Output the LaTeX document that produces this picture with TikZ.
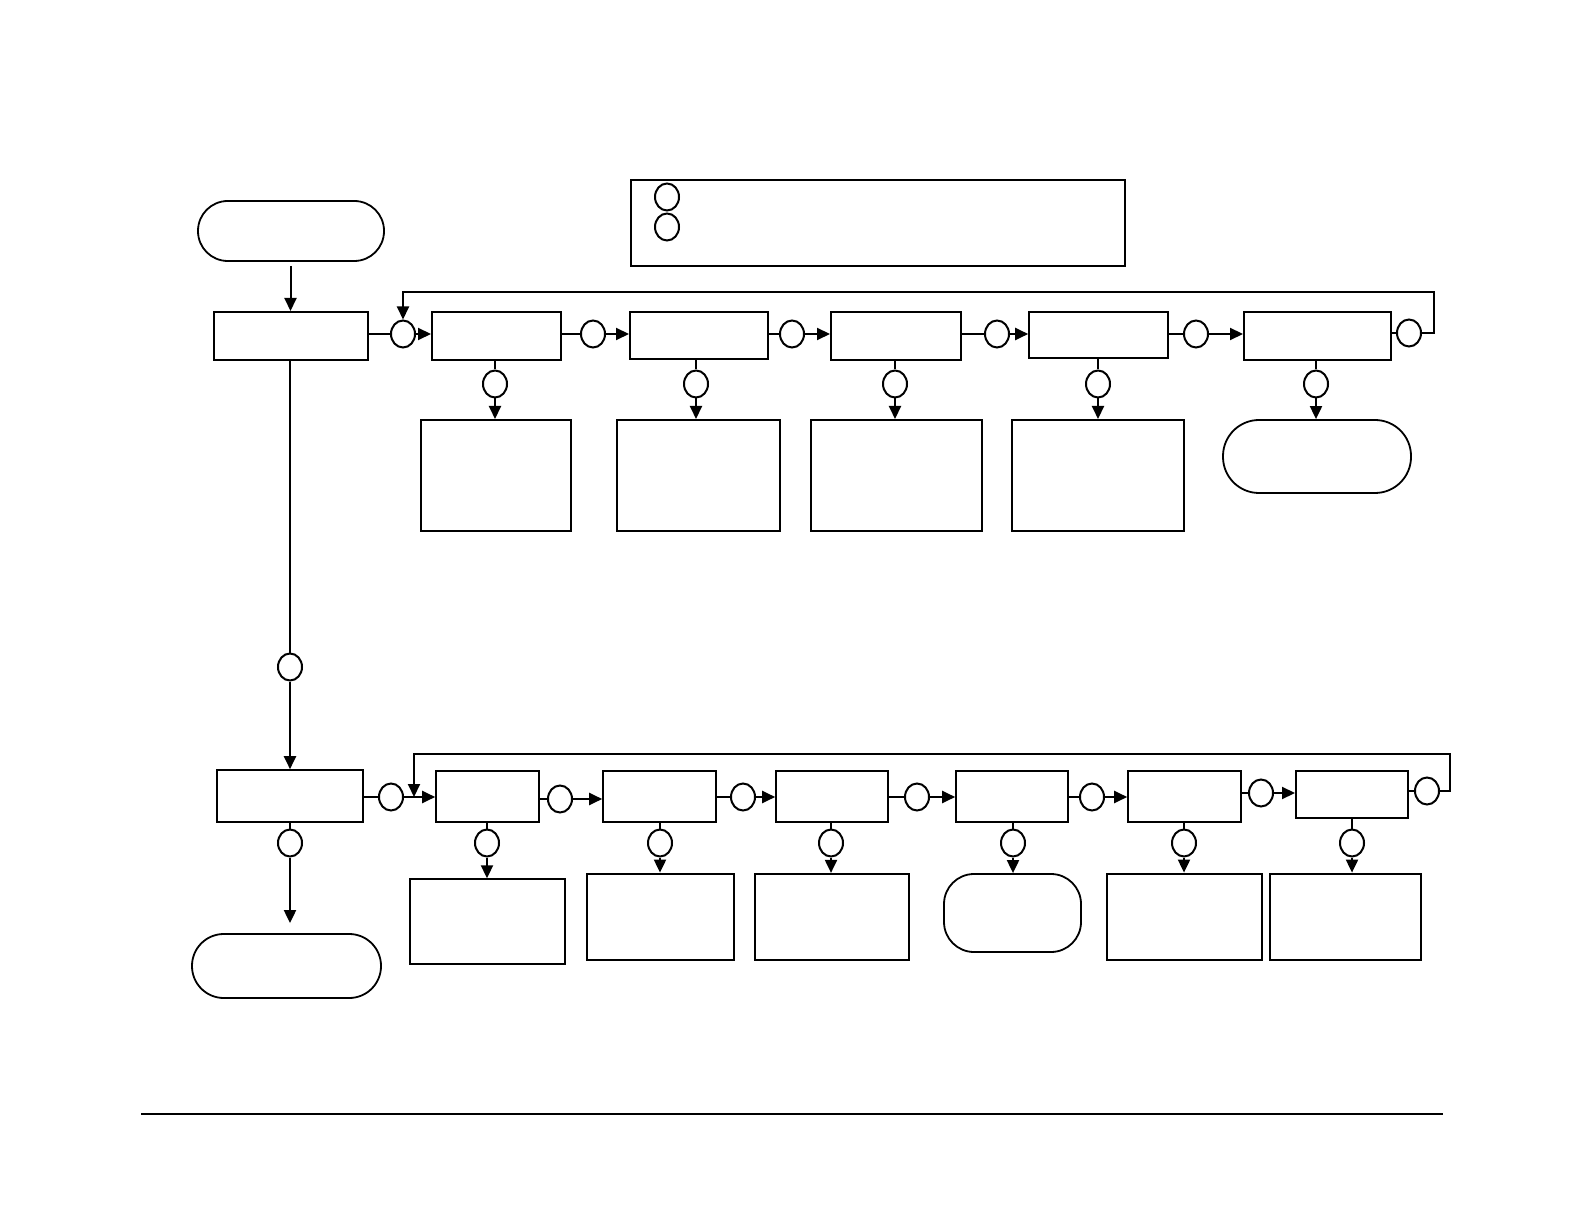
\documentclass[tikz,border=0pt]{standalone}
\usetikzlibrary{arrows.meta,shapes.geometric}
\tikzset{
  sz/.style 2 args={minimum width=#1*0.5pt, minimum height=#2*0.5pt},
  bx/.style={draw, line width=1pt, rectangle, inner sep=0pt},
  bxt/.style={draw, line width=1.4pt, rectangle, inner sep=0pt},
  term/.style={draw, line width=0.9pt, rectangle, inner sep=0pt},
  cn/.style={draw, line width=1pt, ellipse, inner sep=0pt, minimum width=12pt, minimum height=13.5pt},
  ln/.style={line width=1pt},
  ar/.style={line width=1pt, -{Triangle[length=6.5pt,width=6pt]}},
}
\begin{document}
\begin{tikzpicture}[x=0.5pt,y=-0.5pt]
\useasboundingbox (0,0) rectangle (1584,1224);
% legend
\node[bx, sz={494}{86}] (leg) at (878,223) {};
\node[cn] (lc1) at (667,197) {};
\node[cn] (lc2) at (667,227) {};
% start
\node[term, sz={186}{60}, rounded corners=14.9pt] (t0) at (291,231) {};
% top row
\node[bx, sz={154}{48}] (a1) at (290.5,336) {};
\node[cn] (c0) at (403,334) {};
\node[bx, sz={129}{48}] (a2) at (496.5,336) {};
\node[cn] (c1) at (593,334) {};
\node[bx, sz={138}{47}] (a3) at (699,336) {};
\node[cn] (c2) at (792,334) {};
\node[bx, sz={130}{48}] (a4) at (896,336) {};
\node[cn] (c3) at (997,334) {};
\node[bx, sz={139}{46}, line width=0.8pt] (a5) at (1098.5,335) {};
\node[cn] (c4) at (1196,334) {};
\node[bx, sz={147}{48}] (a6) at (1317.5,336) {};
\node[cn] (c5) at (1409,333) {};
% top down circles
\node[cn] (d1) at (495,384) {};
\node[cn] (d2) at (696,384) {};
\node[cn] (d3) at (895,384) {};
\node[cn] (d4) at (1098,384) {};
\node[cn] (d5) at (1316,384) {};
% top results
\node[bx, sz={150}{111}] (r1) at (496,475.5) {};
\node[bx, sz={163}{111}] (r2) at (698.5,475.5) {};
\node[bx, sz={171}{111}] (r3) at (896.5,475.5) {};
\node[bx, sz={172}{111}] (r4) at (1098,475.5) {};
\node[term, sz={188}{73}, rounded corners=18pt] (r5) at (1317,456.5) {};
% vertical
\node[cn] (v) at (290,667) {};
% bottom row
\node[bx, sz={146}{52}, line width=0.8pt] (b1) at (290,796) {};
\node[cn] (e0) at (391,797) {};
\node[bx, sz={103}{51}, line width=0.8pt] (b2) at (487.5,796.5) {};
\node[cn] (e1) at (560,799) {};
\node[bx, sz={113}{51}, line width=0.8pt] (b3) at (659.5,796.5) {};
\node[cn] (e2) at (743,797) {};
\node[bx, sz={112}{51}, line width=0.8pt] (b4) at (832,796.5) {};
\node[cn] (e3) at (917,797) {};
\node[bx, sz={112}{51}, line width=0.8pt] (b5) at (1012,796.5) {};
\node[cn] (e4) at (1092,797) {};
\node[bx, sz={113}{51}, line width=0.8pt] (b6) at (1184.5,796.5) {};
\node[cn] (e5) at (1261,793) {};
\node[bx, sz={112}{47}] (b7) at (1352,794.5) {};
\node[cn] (e6) at (1427,791) {};
% bottom down circles
\node[cn] (f0) at (290,843) {};
\node[cn] (f1) at (487,843) {};
\node[cn] (f2) at (660,843) {};
\node[cn] (f3) at (831,843) {};
\node[cn] (f4) at (1013,843) {};
\node[cn] (f5) at (1184,843) {};
\node[cn] (f6) at (1352,843) {};
% bottom results
\node[term, sz={189}{64}, rounded corners=15.9pt] (t1) at (286.5,966) {};
\node[bx, sz={155}{85}, line width=0.7pt] (s1) at (487.5,921.5) {};
\node[bxt, sz={147}{86}] (s2) at (660.5,917) {};
\node[bxt, sz={154}{86}, line width=1.1pt] (s3) at (832,917) {};
\node[term, sz={137}{78}, rounded corners=15pt] (s4) at (1012.5,913) {};
\node[bxt, sz={155}{86}] (s5) at (1184.5,917) {};
\node[bxt, sz={151}{86}] (s6) at (1345.5,917) {};
% footer
\coordinate (fl) at (141,1114);
\coordinate (fr) at (1443,1114);
\draw[line width=0.6pt] (fl) -- (fr);
% connectors top
\draw[ar, shorten <=2pt] (t0.south -| a1.north) -- (a1.north);
\draw[ln] (a1.east |- c0) -- (c0.west);
\draw[ar] (c0.east) -- (a2.west |- c0);
\draw[ln] (a2.east |- c1) -- (c1.west);
\draw[ar] (c1.east) -- (a3.west |- c1);
\draw[ln] (a3.east |- c2) -- (c2.west);
\draw[ar] (c2.east) -- (a4.west |- c2);
\draw[ln] (a4.east |- c3) -- (c3.west);
\draw[ar] (c3.east) -- (a5.west |- c3);
\draw[ln] (a5.east |- c4) -- (c4.west);
\draw[ar] (c4.east) -- (a6.west |- c4);
\draw[ln] (a6.east |- c5) -- (c5.west);
\coordinate (fbt1) at (1434,292);
\draw[ar] (c5.east) -| (fbt1) -| (c0.north);
\draw[ln] (a2.south -| d1) -- (d1.north);
\draw[ar] (d1.south) -- (r1.north -| d1);
\draw[ln] (a3.south -| d2) -- (d2.north);
\draw[ar] (d2.south) -- (r2.north -| d2);
\draw[ln] (a4.south -| d3) -- (d3.north);
\draw[ar] (d3.south) -- (r3.north -| d3);
\draw[ln] (a5.south -| d4) -- (d4.north);
\draw[ar] (d4.south) -- (r4.north -| d4);
\draw[ln] (a6.south -| d5) -- (d5.north);
\draw[ar] (d5.south) -- (r5.north -| d5);
% vertical
\draw[ln] (a1.south -| v) -- (v.north);
\draw[ar] (v.south) -- (b1.north -| v);
% connectors bottom
\draw[ln] (b1.east |- e0) -- (e0.west);
\draw[ar] (e0.east) -- (b2.west |- e0);
\draw[ln] (b2.east |- e1) -- (e1.west);
\draw[ar] (e1.east) -- (b3.west |- e1);
\draw[ln] (b3.east |- e2) -- (e2.west);
\draw[ar] (e2.east) -- (b4.west |- e2);
\draw[ln] (b4.east |- e3) -- (e3.west);
\draw[ar] (e3.east) -- (b5.west |- e3);
\draw[ln] (b5.east |- e4) -- (e4.west);
\draw[ar] (e4.east) -- (b6.west |- e4);
\draw[ln] (b6.east |- e5) -- (e5.west);
\draw[ar] (e5.east) -- (b7.west |- e5);
\draw[ln] (b7.east |- e6) -- (e6.west);
\coordinate (fbt2) at (1450,754);
\coordinate (fbin) at (414,797);
\draw[ar] (e6.east) -| (fbt2) -| (fbin);
\draw[ln] (b1.south -| f0) -- (f0.north);
\draw[ar, shorten >=5pt] (f0.south) -- (t1.north -| f0);
\draw[ln] (b2.south -| f1) -- (f1.north);
\draw[ar] (f1.south) -- (s1.north -| f1);
\draw[ln] (b3.south -| f2) -- (f2.north);
\draw[ar] (f2.south) -- (s2.north -| f2);
\draw[ln] (b4.south -| f3) -- (f3.north);
\draw[ar] (f3.south) -- (s3.north -| f3);
\draw[ln] (b5.south -| f4) -- (f4.north);
\draw[ar] (f4.south) -- (s4.north -| f4);
\draw[ln] (b6.south -| f5) -- (f5.north);
\draw[ar] (f5.south) -- (s5.north -| f5);
\draw[ln] (b7.south -| f6) -- (f6.north);
\draw[ar] (f6.south) -- (s6.north -| f6);
\end{tikzpicture}
\end{document}
